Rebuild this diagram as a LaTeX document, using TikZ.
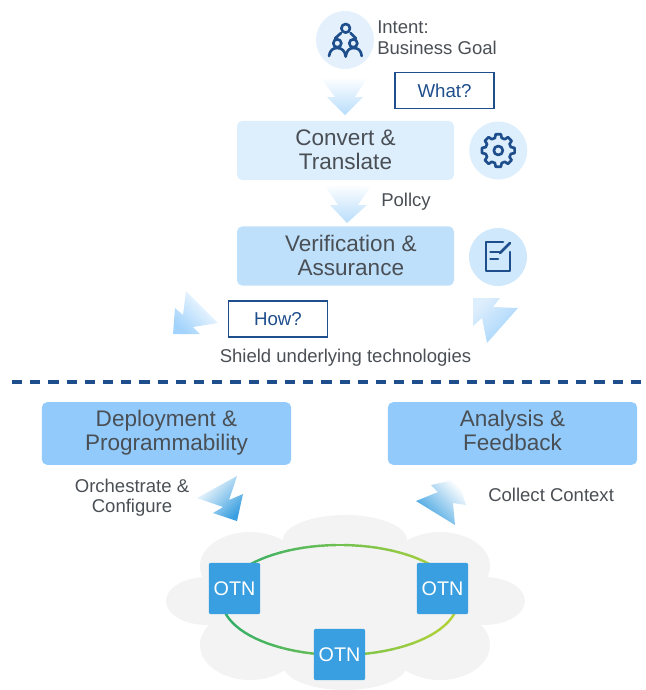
\documentclass[tikz,border=0pt]{standalone}
\usepackage{fontspec}
\setmainfont{Liberation Sans}
\usetikzlibrary{calc}
\definecolor{inktext}{HTML}{4A4F55}
\definecolor{inkblue}{HTML}{1F4E8C}
\definecolor{boxpale}{HTML}{DDEEFC}
\definecolor{boxmid}{HTML}{BFE0FB}
\definecolor{boxdeep}{HTML}{92CBFB}
\definecolor{otnblue}{HTML}{3A9FE0}
\definecolor{cloudgray}{HTML}{F3F3F3}
\definecolor{ringgreen}{HTML}{2FAE6B}
\definecolor{ringlime}{HTML}{B5D335}
\tikzset{
  stagebox/.style={rounded corners=4pt,inner sep=0pt,text=inktext,align=center,
    font=\fontsize{16.9}{18}\selectfont,minimum width=162.75pt,minimum height=44.5pt},
  askbox/.style={draw=inkblue,line width=1.1pt,inner sep=0pt,text=inkblue,
    font=\fontsize{14}{16}\selectfont,minimum width=74pt,minimum height=27pt},
  caption/.style={inner sep=0pt,text=inktext,align=center,font=\fontsize{13.9}{15}\selectfont},
  iconback/.style={circle,inner sep=0pt,minimum size=43.5pt},
  icon/.style={draw=inkblue,line width=2pt,line cap=round,line join=round},
  otn/.style={fill=otnblue,rounded corners=1.5pt,inner sep=0pt,text=white,
    font=\fontsize{14.8}{16}\selectfont,minimum size=38.5pt}
}
\begin{document}
\begin{tikzpicture}[x=0.75pt,y=-0.75pt]
  \useasboundingbox (0,0) rectangle (646,690);
  \coordinate (ringc) at (340,600);
  % cloud
  \foreach \cx/\cy/\rx/\ry in {345/540/62/25,250/566/50/34,440/566/50/34,207/601/41/24,
    484/601/41/24,250/645/50/35,440/645/50/35,345/665/62/25}
    \fill[cloudgray]
      (\cx,\cy)
      ellipse
      [x radius=\rx,y radius=\ry];
  \fill[cloudgray]
    (225,545)
    rectangle
    (465,665);
  % ring
  \foreach \a [evaluate=\a as \b using \a+4] in {0,4,...,356} {
    \pgfmathtruncatemacro{\mixed}{50*(1+cos(\a))}
    \coordinate (r1) at ($(ringc)+(\a:118 and 55)$);
    \coordinate (r2) at ($(ringc)+(\b:118 and 55)$);
    \draw[color=ringlime!\mixed!ringgreen,line width=1.8pt,line cap=round]
      (r1)
      --
      (r2);
  }
  % boxes
  \node[stagebox,fill=boxpale] (convert) at (345.5,150.5) {\rule{0pt}{15.2pt}Convert \&\\Translate\strut};
  \node[stagebox,fill=boxmid] (verify) at (345.5,256) {\rule{0pt}{17pt}\hspace*{8pt}Verification \&\\\hspace*{8pt}Assurance\strut};
  \node[stagebox,fill=boxdeep,minimum width=187pt,minimum height=47pt] (deploy) at (166.5,433.5) {\strut Deployment \&\\Programmability\strut};
  \node[stagebox,fill=boxdeep,minimum width=187pt,minimum height=47pt] (analysis) at (512.5,433.5) {\strut Analysis \&\\Feedback\strut};
  \node[askbox] (what) at (444.5,90.5) {What?};
  \node[askbox] (how) at (278,319) {How?};
  \node[otn] (otnleft) at (234.5,588.5) {OTN};
  \node[otn] (otnright) at (442.5,588.5) {OTN};
  \node[otn] (otnbottom) at (339.5,654.5) {OTN};
  % texts
  \node[caption,align=left,anchor=west] (intent) at (377,38) {Intent:\\[1pt]Business Goal};
  \node[caption,anchor=west] (policy) at (381,202) {Pollcy};
  \node[caption] (shield) at (345.5,358) {Shield underlying technologies};
  \node[caption] (orchestrate) at (132,498) {Orchestrate \&\\Configure};
  \node[caption,anchor=west] (collect) at (488,495) {Collect Context};
  % block arrows
  \shade[top color=white,bottom color=boxmid!85!boxdeep]
    (320,77) -- (368,77) -- (355,97) -- (363,97) -- (345,115) -- (327,97) -- (335,97) -- cycle;
  \shade[top color=white,bottom color=boxmid!85!boxdeep]
    (324,184) -- (372,184) -- (358,205) -- (367,205) -- (347,223) -- (330,205) -- (338,205) -- cycle;
  \shade[top color=white,bottom color=boxdeep!85!white,shading angle=-45]
    (186,291) -- (218,323) -- (193,327) -- (200,334) -- (173,334) -- (175,308) -- (183,315) -- cycle;
  \shade[top color=boxpale,bottom color=boxdeep!85!white,shading angle=45]
    (473,298) -- (500,298) -- (493,307) -- (518,308) -- (487,343) -- (482,318) -- (473,326) -- cycle;
  \shade[top color=white,bottom color=otnblue,shading angle=45]
    (197,498) -- (237,476) -- (229,500) -- (243,494) -- (237,521) -- (213,513) -- (223,507) -- cycle;
  \shade[top color=white,bottom color=otnblue,shading angle=-45]
    (458,479) -- (466,505) -- (453,503) -- (455,525) -- (416,501) -- (438,492) -- (431,485) -- cycle;
  % divider
  \coordinate (dashl) at (12,382);
  \coordinate (dashr) at (641,382);
  \draw[color=inkblue,line width=2.3pt,dash pattern=on 7.6pt off 6.05pt]
    (dashl)
    --
    (dashr);
  % people icon
  \node[iconback,fill=boxpale!80!white] (goal) at (345,40) {};
  \draw[icon]
    (345.7,28.3)
    circle
    [radius=4.3];
  \draw[icon]
    (337.3,43.3)
    circle
    [radius=4];
  \draw[icon]
    (353.3,43.3)
    circle
    [radius=4];
  \draw[icon]
    (341,33) -- (335,38.5);
  \draw[icon]
    (350.5,33) -- (356,38.5);
  \draw[icon]
    (329,56) .. controls (330,50) and (333,48) .. (337.3,48) .. controls (342,48) and (345,51) .. (345.7,56.5);
  \draw[icon]
    (345.7,56.5) .. controls (346.5,51) and (349,48) .. (353.3,48) .. controls (358,48) and (361,50) .. (361.7,56);
  % gear icon
  \node[iconback,fill=boxpale] (gear) at (498.3,150.5) {};
  \begin{scope}[shift={(498.3,150.5)}]
    \draw[icon]
      (-15:13)
      foreach \a in {0,45,...,315} {
        -- (\a-15:13) -- (\a-9:16.5) -- (\a+9:16.5) -- (\a+15:13)
      }
      -- cycle;
    \draw[icon]
      (0,0)
      circle
      [radius=4.5];
  \end{scope}
  % form icon
  \node[iconback,fill=boxmid!75!white] (form) at (498,257) {};
  \draw[icon]
    (503,242) -- (486,242) -- (486,271) -- (510,271) -- (510,252);
  \draw[icon]
    (500,253) -- (510,243);
  \draw[icon]
    (490.5,252) -- (500,252);
  \draw[icon]
    (490.5,259) -- (498,259);
\end{tikzpicture}
\end{document}
